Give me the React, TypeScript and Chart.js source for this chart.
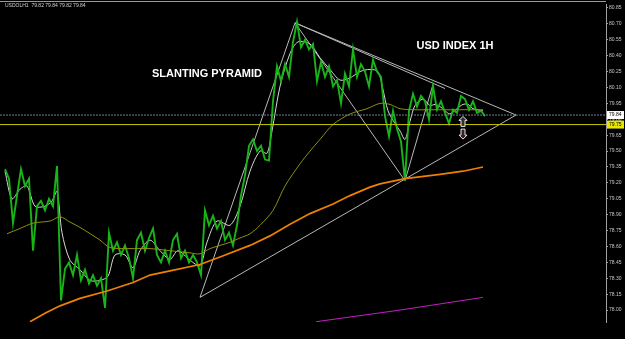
import React, { useEffect, useRef } from "react";
import { Chart, registerables } from "chart.js";

Chart.register(...registerables);

// ---- data (x = hourly bar position, y = price) ----
const priceStartX = 5;
const priceStepX = 4;
const priceValues = [
  79.33, 79.24, 78.82, 79.08, 79.33, 79.17, 79.24, 78.56, 78.98, 79.03,
  78.94, 79.05, 78.98, 79.36, 78.09, 78.39, 78.45, 78.33, 78.52, 78.28,
  78.38, 78.25, 78.33, 78.23, 78.30, 78.02, 78.73, 78.56, 78.64, 78.52,
  78.61, 78.49, 78.30, 78.66, 78.73, 78.56, 78.68, 78.77, 78.52, 78.45,
  78.56, 78.45, 78.66, 78.72, 78.49, 78.56, 78.45, 78.52, 78.45, 78.33,
  78.94, 78.80, 78.89, 78.77, 78.84, 78.66, 78.73, 78.61, 78.80, 79.08,
  79.27, 79.55, 79.61, 79.50, 79.55, 79.42, 79.41, 79.97, 80.30, 80.16,
  80.32, 80.20, 80.53, 80.72, 80.48, 80.55, 80.46, 80.51, 80.16, 80.34,
  80.20, 80.30, 80.11, 80.17, 79.95, 80.23, 80.11, 80.46, 80.20, 80.32,
  80.25, 80.11, 80.36, 80.25, 80.20, 79.83, 79.64, 79.88, 79.71, 79.59,
  79.22, 79.88, 80.04, 79.92, 80.02, 79.97, 79.80, 80.11, 79.89, 79.97,
  79.86, 79.76, 79.89, 79.86, 80.02, 79.99, 79.89, 79.97, 79.86, 79.88,
  79.83,
];

const fastMaX = [5, 12, 20, 27, 35, 45, 52, 57, 62, 70, 80, 90, 100, 108, 115, 125, 133, 140, 150, 160, 170, 178, 190, 200, 207, 217, 230, 240, 250, 260, 267, 272, 280, 290, 298, 310, 320, 330, 340, 350, 360, 370, 378, 383, 388, 395, 400, 405, 410, 415, 423, 430, 435, 440, 445, 450, 457, 463, 468, 473, 483];
const fastMaValues = [79.31, 79.05, 79.14, 79.17, 78.98, 78.98, 79.03, 79.12, 78.73, 78.47, 78.38, 78.28, 78.28, 78.32, 78.52, 78.52, 78.40, 78.56, 78.66, 78.56, 78.48, 78.56, 78.47, 78.42, 78.64, 78.84, 78.80, 78.98, 79.31, 79.50, 79.48, 79.69, 80.11, 80.42, 80.53, 80.51, 80.38, 80.27, 80.17, 80.19, 80.25, 80.27, 80.25, 80.08, 79.88, 79.76, 79.69, 79.61, 79.78, 79.93, 79.99, 79.93, 79.94, 79.92, 79.88, 79.85, 79.90, 79.94, 79.94, 79.90, 79.88];

const midMaX = [7, 20, 33, 50, 60, 70, 80, 100, 110, 130, 150, 170, 190, 200, 210, 220, 230, 240, 250, 260, 273, 285, 300, 310, 320, 333, 350, 367, 380, 390, 400, 413, 430, 447, 463, 483];
const midMaValues = [78.72, 78.77, 78.82, 78.84, 78.88, 78.83, 78.78, 78.66, 78.59, 78.58, 78.58, 78.56, 78.54, 78.53, 78.58, 78.61, 78.64, 78.68, 78.72, 78.80, 78.94, 79.17, 79.38, 79.50, 79.61, 79.75, 79.85, 79.90, 79.95, 79.94, 79.90, 79.89, 79.89, 79.89, 79.89, 79.89];

const slowMaX = [30, 45, 60, 80, 107, 133, 150, 170, 200, 220, 250, 270, 290, 310, 333, 350, 370, 380, 405, 440, 463, 483];
const slowMaValues = [77.89, 77.97, 78.04, 78.11, 78.18, 78.26, 78.33, 78.37, 78.43, 78.50, 78.61, 78.70, 78.81, 78.91, 79.00, 79.08, 79.16, 79.19, 79.24, 79.28, 79.31, 79.35];

const magentaX = [316, 400, 483];
const magentaValues = [77.89, 78.00, 78.12];

// pyramid trendlines: [x1, price1, x2, price2]
const trendLines = [
  [200, 78.12, 295, 80.71],
  [295, 80.71, 405, 79.22],
  [295, 80.71, 516, 79.84],
  [295, 80.71, 445, 80.09],
  [200, 78.12, 516, 79.84],
  [405, 79.22, 433, 80.13],
];

const bidLevel = 79.84;
const supportLevel = 79.75;
const yTicks = [80.85, 80.70, 80.55, 80.40, 80.25, 80.10, 79.95, 79.80, 79.65, 79.50, 79.35, 79.20, 79.05, 78.90, 78.75, 78.60, 78.45, 78.30, 78.15, 78.00];
const headerText = "USDOLH1  79.82 79.84 79.82 79.84";
const titleA = { text: "SLANTING PYRAMID", x: 207, y: 80.23 };
const titleB = { text: "USD INDEX 1H", x: 455, y: 80.49 };
const arrowUp = { x: 463, y: 79.78 };
const arrowDown = { x: 463, y: 79.66 };

const pts = (xs: number[], ys: number[]) => ys.map((y, i) => ({ x: xs[i], y }));

function drawArrow(ctx: CanvasRenderingContext2D, cx: number, cy: number, up: boolean) {
  const s = up ? -1 : 1;
  ctx.save();
  ctx.beginPath();
  ctx.moveTo(cx, cy + s * 5);
  ctx.lineTo(cx + 4, cy + s * 1);
  ctx.lineTo(cx + 2, cy + s * 1);
  ctx.lineTo(cx + 2, cy - s * 5);
  ctx.lineTo(cx - 2, cy - s * 5);
  ctx.lineTo(cx - 2, cy + s * 1);
  ctx.lineTo(cx - 4, cy + s * 1);
  ctx.closePath();
  ctx.fillStyle = up ? "#303030" : "#3a2020";
  ctx.fill();
  ctx.strokeStyle = "#e8e8e8";
  ctx.lineWidth = 1;
  ctx.stroke();
  ctx.restore();
}

const overlayPlugin = {
  id: "overlay",
  afterDatasetsDraw(chart: any) {
    const { ctx, chartArea, scales } = chart;
    const xs = scales.x;
    const ys = scales.y;
    ctx.save();
    ctx.strokeStyle = "#9a9a9a";
    ctx.lineWidth = 1;
    ctx.beginPath();
    ctx.moveTo(0, 1.5);
    ctx.lineTo(chartArea.right, 1.5);
    ctx.stroke();
    ctx.fillStyle = "#d0d0d0";
    ctx.font = "5px 'Liberation Sans', Arial, sans-serif";
    ctx.textBaseline = "middle";
    ctx.textAlign = "left";
    ctx.fillText(headerText, 5, 6);
    ctx.fillStyle = "#ffffff";
    ctx.font = "bold 11px 'Liberation Sans', Arial, sans-serif";
    ctx.textAlign = "center";
    ctx.fillText(titleA.text, xs.getPixelForValue(titleA.x), ys.getPixelForValue(titleA.y));
    ctx.fillText(titleB.text, xs.getPixelForValue(titleB.x), ys.getPixelForValue(titleB.y));
    drawArrow(ctx, xs.getPixelForValue(arrowUp.x), ys.getPixelForValue(arrowUp.y), true);
    drawArrow(ctx, xs.getPixelForValue(arrowDown.x), ys.getPixelForValue(arrowDown.y), false);
    const boxes = [
      { v: bidLevel, bg: "#ffffff", fg: "#000000" },
      { v: supportLevel, bg: "#e6e600", fg: "#000000" },
    ];
    ctx.font = "5px 'Liberation Sans', Arial, sans-serif";
    ctx.textAlign = "left";
    for (const b of boxes) {
      const py = ys.getPixelForValue(b.v);
      ctx.fillStyle = b.bg;
      ctx.fillRect(chartArea.right + 1, py - 4, 17, 8);
      ctx.fillStyle = b.fg;
      ctx.fillText(b.v.toFixed(2), chartArea.right + 3, py);
    }
    ctx.restore();
  },
};

export default function App() {
  const ref = useRef<HTMLCanvasElement | null>(null);
  useEffect(() => {
    if (!ref.current) return;
    const lineDs = (data: any[], color: string, width: number, extra: any = {}) => ({
      data,
      borderColor: color,
      borderWidth: width,
      pointRadius: 0,
      tension: 0,
      fill: false,
      ...extra,
    });
    const priceXs = priceValues.map((_, i) => priceStartX + i * priceStepX);
    const datasets: any[] = [
      lineDs([{ x: 0, y: bidLevel }, { x: 606, y: bidLevel }], "#6f7f94", 1, { borderDash: [2, 1] }),
      lineDs([{ x: 0, y: supportLevel }, { x: 606, y: supportLevel }], "#c8c800", 1),
      lineDs(pts(slowMaX, slowMaValues), "#f08000", 1.7),
      lineDs(pts(magentaX, magentaValues), "#c020c0", 1),
      lineDs(pts(midMaX, midMaValues), "#8f8f10", 1, { tension: 0.3 }),
      lineDs(pts(priceXs, priceValues), "#18b418", 1.9),
      lineDs(pts(fastMaX, fastMaValues), "#d8d8d8", 1, { tension: 0.3 }),
      ...trendLines.map((t) => lineDs([{ x: t[0], y: t[1] }, { x: t[2], y: t[3] }], "#b8b8b8", 1)),
    ];
    const chart = new Chart(ref.current, {
      type: "line",
      data: { datasets },
      options: {
        animation: false,
        responsive: true,
        maintainAspectRatio: false,
        layout: { padding: { top: 2, bottom: 17, left: 0, right: 0 } },
        plugins: { legend: { display: false }, tooltip: { enabled: false } },
        scales: {
          x: { type: "linear", min: 0, max: 606, display: false },
          y: {
            type: "linear",
            position: "right",
            min: 77.8875,
            max: 80.8875,
            afterBuildTicks: (s: any) => {
              s.ticks = yTicks.map((v) => ({ value: v }));
            },
            afterFit: (s: any) => {
              s.width = 19;
            },
            grid: { drawOnChartArea: false, drawTicks: true, tickLength: 2, color: "#a0a0a0" },
            border: { display: true, color: "#a0a0a0" },
            ticks: {
              color: "#c8c8c8",
              padding: 1,
              font: { size: 5, family: "'Liberation Sans', Arial, sans-serif" },
              callback: (v: any) => Number(v).toFixed(2),
            },
          },
        },
      } as any,
      plugins: [overlayPlugin],
    });
    return () => chart.destroy();
  }, []);
  return (
    <div style={{ position: "fixed", left: 0, top: 0, width: 625, height: 339, background: "#000000" }}>
      <canvas ref={ref} />
    </div>
  );
}
